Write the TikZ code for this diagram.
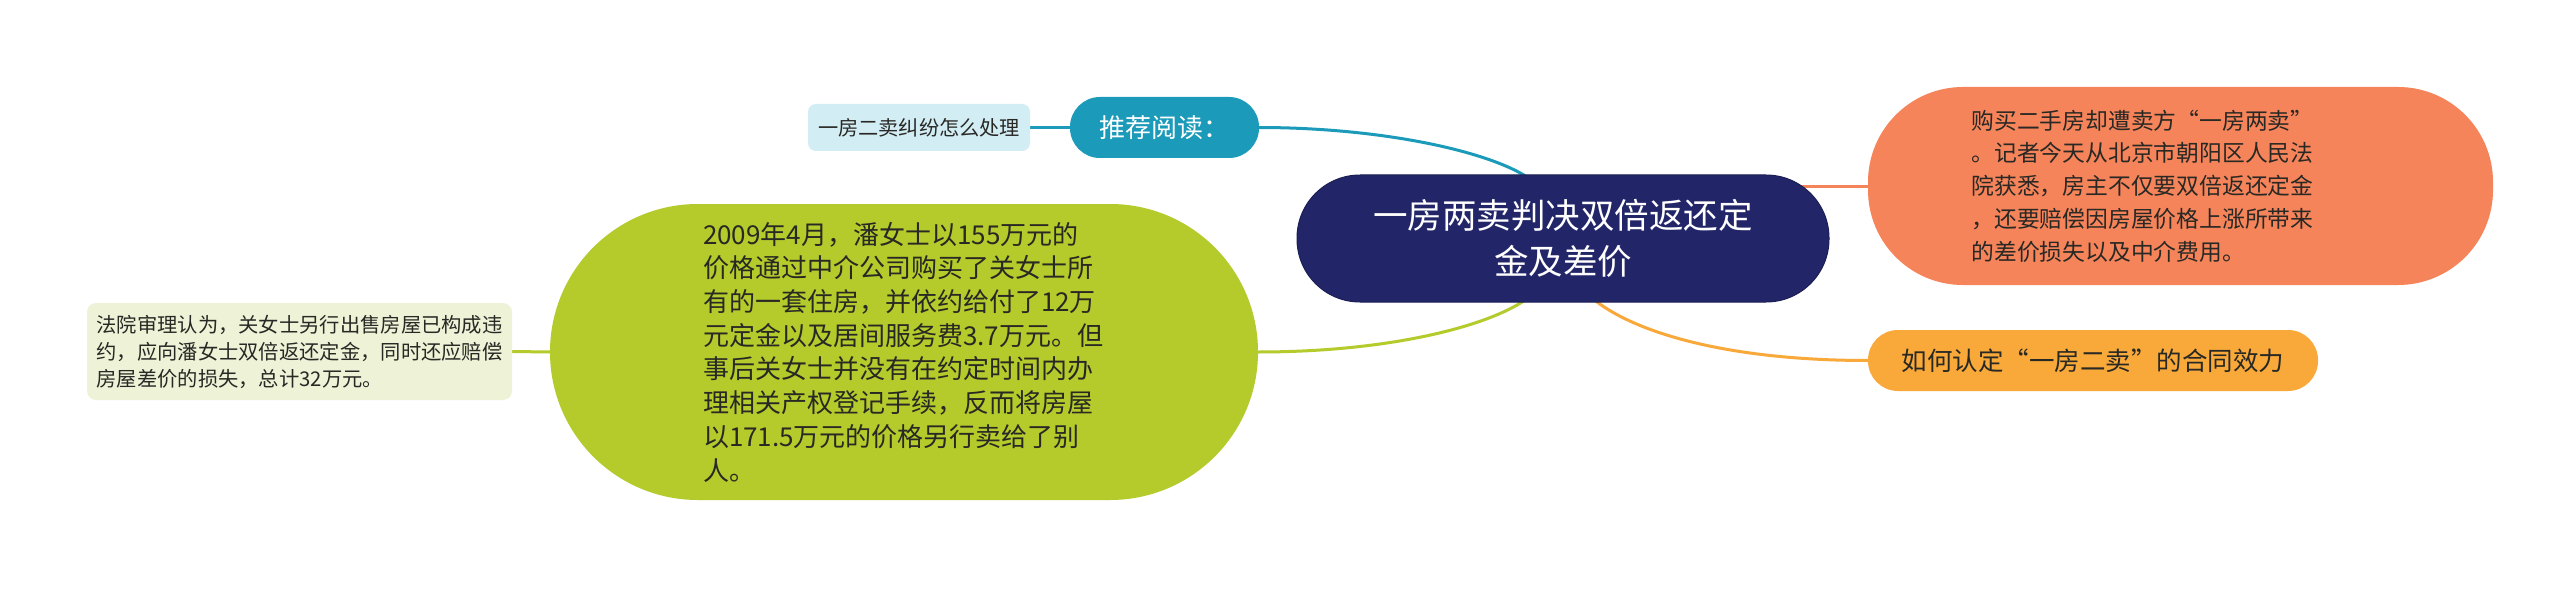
\documentclass[tikz,border=0pt]{standalone}
\usepackage{fontspec}
\newfontfamily\cjk{Noto Sans CJK SC}
\usetikzlibrary{calc}
\pgfdeclarelayer{bg}
\pgfdeclarelayer{links}
\pgfsetlayers{bg,links,main}
\definecolor{cnavy}{RGB}{34,38,104}
\definecolor{cteal}{RGB}{27,154,185}
\definecolor{corange}{RGB}{246,132,90}
\definecolor{cyellow}{RGB}{248,169,58}
\definecolor{cgreen}{RGB}{181,202,43}
\definecolor{clgreen}{RGB}{238,243,216}
\definecolor{clblue}{RGB}{211,237,244}
\definecolor{ctext}{RGB}{40,40,36}
\tikzset{
  base/.style={inner sep=0pt, outer sep=0pt, text=ctext},
  ctrbox/.style={base, fill=cnavy, draw=cnavy!80!black, line width=1pt, rounded corners=63pt,
    minimum width=532pt, minimum height=127pt, text=white, align=center,
    font=\cjk\fontsize{34.5pt}{46pt}\selectfont},
  recbox/.style={base, fill=cteal, rounded corners=30pt, minimum width=189pt, minimum height=61pt,
    text=white, font=\cjk\fontsize{26pt}{30pt}\selectfont},
  linkbox/.style={base, fill=clblue, rounded corners=8pt, minimum width=222pt, minimum height=47pt,
    font=\cjk\fontsize{20.2pt}{24pt}\selectfont},
  lawbox/.style={base, fill=clgreen, rounded corners=9pt, minimum width=425pt, minimum height=97pt,
    text width=406pt, align=left, font=\cjk\fontsize{20.3pt}{27pt}\selectfont},
  grnbox/.style={base, fill=cgreen, rounded corners=147.9pt, minimum width=708pt, minimum height=296pt,
    text width=402pt, align=left, font=\cjk\fontsize{26pt}{33.7pt}\selectfont},
  orgbox/.style={base, fill=corange, rounded corners=95pt, minimum width=625pt, minimum height=198pt,
    text width=418pt, align=left, font=\cjk\fontsize{22.8pt}{32.8pt}\selectfont},
  yelbox/.style={base, fill=cyellow, rounded corners=30pt, minimum width=450pt, minimum height=61pt,
    font=\cjk\fontsize{25.5pt}{30pt}\selectfont},
  link/.style={line width=3pt}
}
\begin{document}
\begin{tikzpicture}[x=1pt,y=-1pt]
\begin{pgfonlayer}{bg}
  \fill[white] (0,0) rectangle (2560,591);
\end{pgfonlayer}
\path[use as bounding box] (0,0) rectangle (2560,591);

\node[ctrbox] (ctr) at (1563,238.5) {一房两卖判决双倍返还定\\金及差价};
\node[recbox] (rec) at (1164.5,127.5) {推荐阅读：};
\node[linkbox] (lnk) at (919,127.5) {一房二卖纠纷怎么处理};
\node[lawbox] (law) at (299.5,351.5) {法院审理认为，关女士另行出售房屋已构成违\\约，应向潘女士双倍返还定金，同时还应赔偿\\房屋差价的损失，总计32万元。};
\node[grnbox] (grn) at (904,352) {2009年4月，潘女士以155万元的\\价格通过中介公司购买了关女士所\\有的一套住房，并依约给付了12万\\元定金以及居间服务费3.7万元。但\\事后关女士并没有在约定时间内办\\理相关产权登记手续，反而将房屋\\以171.5万元的价格另行卖给了别\\人。};
\node[orgbox] (org) at (2180.5,186) {购买二手房却遭卖方“一房两卖”\\。记者今天从北京市朝阳区人民法\\院获悉，房主不仅要双倍返还定金\\，还要赔偿因房屋价格上涨所带来\\的差价损失以及中介费用。};
\node[yelbox] (yel) at (2093,360.5) {如何认定“一房二卖”的合同效力};

\begin{pgfonlayer}{links}
  \draw[link, cteal] (lnk.east) -- (rec.west);
  \draw[link, cteal] (rec.east) .. controls +(121,0) and +(-40,-28) .. ($(ctr.north)+(-33,4)$);
  \draw[link, cgreen] (law.east) -- (grn.west);
  \draw[link, cgreen] (grn.east) .. controls +(132,0) and +(-38,28) .. ($(ctr.south)+(-35,-4)$);
  \draw[link, corange] (org.west) -- (org.west -| ctr.center);
  \draw[link, cyellow] ($(ctr.south)+(29,-4)$) .. controls +(38,32) and +(-148,0) .. (yel.west);
\end{pgfonlayer}
\end{tikzpicture}
\end{document}
